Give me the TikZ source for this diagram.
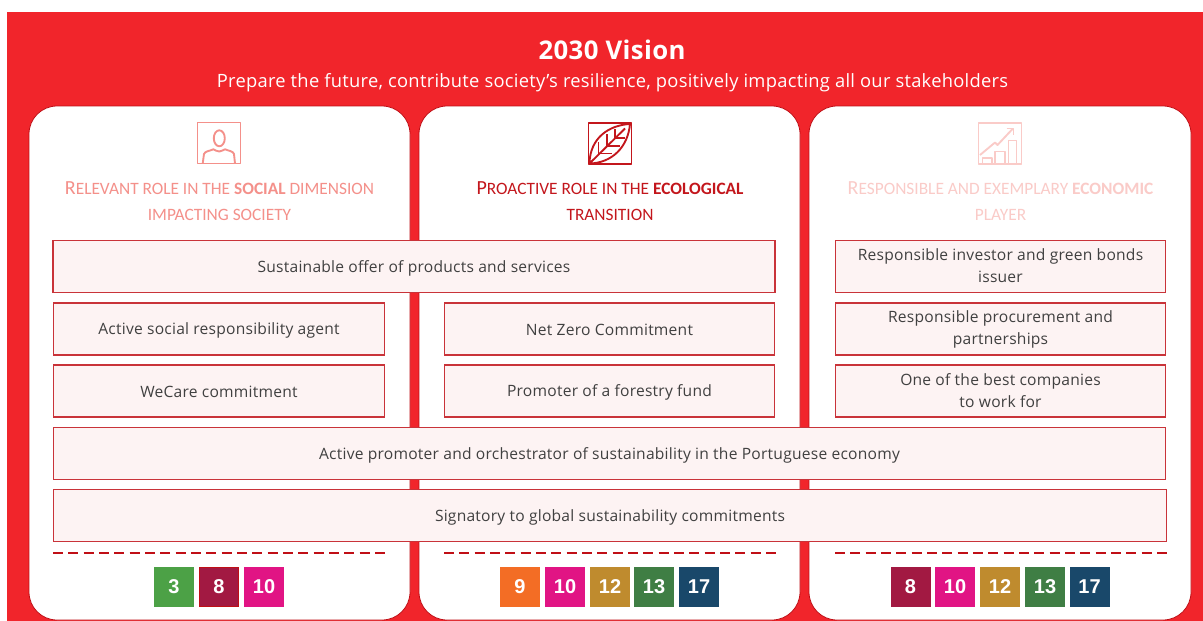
\documentclass[tikz,border=0pt]{standalone}
\usepackage{fontspec}
\setmainfont{Open Sans}[LetterSpace=1.5]
\newfontfamily\headfont{Carlito}
\setsansfont{Liberation Sans}
\usetikzlibrary{calc}
\definecolor{visionred}{HTML}{F1252B}
\definecolor{darkred}{HTML}{C00F16}
\definecolor{boxfill}{HTML}{FDF3F3}
\definecolor{boxtext}{HTML}{404040}
\definecolor{socialcol}{HTML}{F4908A}
\definecolor{ecocol}{HTML}{C3161C}
\definecolor{playercol}{HTML}{FACBC8}
\definecolor{sdgthree}{HTML}{4CA146}
\definecolor{sdgeight}{HTML}{A21942}
\definecolor{sdgnine}{HTML}{F36D25}
\definecolor{sdgten}{HTML}{E11484}
\definecolor{sdgtwelve}{HTML}{BF8B2E}
\definecolor{sdgthirteen}{HTML}{3F7E44}
\definecolor{sdgseventeen}{HTML}{19486A}
\newcommand{\capline}[2]{{\fontsize{15pt}{19.5pt}\selectfont #1}#2}
\newcommand{\boxstrut}{\rule[-1.3pt]{0pt}{13pt}}
\tikzset{
	cardbox/.style={draw=darkred,line width=0.6pt,fill=white,rounded corners=21pt},
	itembox/.style={draw=darkred!85,line width=0.9pt,fill=boxfill,text=boxtext,align=center,inner sep=0pt,
		font=\fontsize{11.7pt}{16.5pt}\selectfont,
		execute at begin node=\boxstrut,execute at end node=\boxstrut},
	headtext/.style={align=center,inner sep=0pt,font=\headfont\fontsize{13pt}{19.5pt}\selectfont},
	sdgbox/.style={minimum width=30pt,minimum height=30pt,inner sep=0pt,text=white,
		font=\fontsize{15pt}{17pt}\selectfont\sffamily\bfseries},
	dashline/.style={draw=darkred,line width=1.1pt,dash pattern=on 7.5pt off 4pt},
	iconline/.style={line width=1.4pt,line join=round}
}
\begin{document}
\begin{tikzpicture}[x=0.75pt,y=-0.75pt]
	\useasboundingbox (0,0) rectangle (1203,621);
	% Fond
	\fill[visionred] (7,12) rectangle (1203,621);
	% Titre
	\node[text=white,font=\fontsize{19.3pt}{22pt}\selectfont\bfseries] (title) at (612,50) {2030 Vision};
	\node[text=white,font=\fontsize{13.75pt}{16pt}\selectfont] (subtitle) at (612.5,83) {Prepare the future, contribute society’s resilience, positively impacting all our stakeholders};
	% Colonnes
	\draw[cardbox] (29,106) rectangle (410,620);
	\draw[cardbox] (419,106) rectangle (800,620);
	\draw[cardbox] (809,106) rectangle (1191,620);
	% Icone personne
	\draw[iconline,socialcol] (197.5,122.5) rectangle (240.5,163.5);
	\draw[iconline,socialcol] (219.3,138.3) ellipse (5.5 and 8);
	\draw[iconline,socialcol] (202.7,163.5) -- (204,154) .. controls (205,151) and (210,151) .. (213.3,149.3) .. controls (215,150) and (217,151.5) .. (219.3,151.5) .. controls (221,151.5) and (223,150) .. (225,149.3) .. controls (229,151) and (233,151) .. (234,154) -- (235,163.5);
	% Icone feuille
	\draw[iconline,ecocol] (588.5,123) rectangle (631.5,164);
	\draw[iconline,ecocol] (589.5,163.5) .. controls (590,137) and (610,125) .. (630,124) .. controls (628,147) and (612,163) .. (589.5,163.5) -- (625,128.5);
	\draw[iconline,ecocol] (598.5,153.5) -- (598.5,142) (607,146) -- (607,134) (615,138) -- (615,128.5);
	\draw[iconline,ecocol] (598.5,153.5) -- (612,153.5) (607,146) -- (620,146) (615,138) -- (625,138);
	% Icone graphique
	\draw[iconline,playercol] (978.5,123) rectangle (1021.5,164);
	\draw[iconline,playercol] (982.5,163.5) -- (982.5,158) -- (992,158) -- (992,163.5);
	\draw[iconline,playercol] (995,163.5) -- (995,151.5) -- (1005,151.5) -- (1005,163.5);
	\draw[iconline,playercol] (1008.5,163.5) -- (1008.5,140.5) -- (1016.5,140.5) -- (1016.5,163.5);
	\draw[iconline,playercol] (980,155) -- (995,142.5) -- (997.5,145) -- (1012.5,129);
	\draw[iconline,playercol] (1006.5,128.5) -- (1013.5,128.5) -- (1013.5,135);
	% Titres des colonnes
	\node[headtext,text=socialcol] (socialhead) at (219.5,201) {\capline{R}{ELEVANT ROLE IN THE} \textbf{SOCIAL} DIMENSION\\IMPACTING SOCIETY};
	\node[headtext,text=ecocol] (ecohead) at (610,201) {\capline{P}{ROACTIVE ROLE IN THE} \textbf{ECOLOGICAL}\\TRANSITION};
	\node[headtext,text=playercol] (playerhead) at (1000.5,201) {\capline{R}{ESPONSIBLE AND EXEMPLARY} \textbf{ECONOMIC}\\PLAYER};
	% Boites
	\node[itembox,minimum width=541.5pt,minimum height=39pt] (offer) at (414,266.5) {Sustainable offer of products and services};
	\node[itembox,minimum width=248pt,minimum height=39pt] (investor) at (1000.5,266.5) {Responsible investor and green bonds\\issuer};
	\node[itembox,minimum width=248pt,minimum height=39pt] (agent) at (219,329) {Active social responsibility agent};
	\node[itembox,minimum width=248pt,minimum height=39pt] (netzero) at (609.5,329) {Net Zero Commitment};
	\node[itembox,minimum width=248pt,minimum height=39pt] (procurement) at (1000.5,329) {Responsible procurement and\\partnerships};
	\node[itembox,minimum width=248pt,minimum height=39pt] (wecare) at (219,391) {WeCare commitment};
	\node[itembox,minimum width=248pt,minimum height=39pt] (forestry) at (609.5,391) {Promoter of a forestry fund};
	\node[itembox,minimum width=248pt,minimum height=39pt] (bestcompanies) at (1000.5,391) {One of the best companies\\to work for};
	\node[itembox,minimum width=834.5pt,minimum height=39.5pt] (promoter) at (609.5,453.5) {Active promoter and orchestrator of sustainability in the Portuguese economy};
	\node[itembox,minimum width=835pt,minimum height=39.5pt] (signatory) at (610,515.5) {Signatory to global sustainability commitments};
	% Pointilles
	\coordinate (dasha) at (53,553);
	\coordinate (dashb) at (386,553);
	\coordinate (dashc) at (444,553);
	\coordinate (dashd) at (776,553);
	\coordinate (dashe) at (835,553);
	\coordinate (dashf) at (1167,553);
	\draw[dashline] (dasha) -- (dashb);
	\draw[dashline] (dashc) -- (dashd);
	\draw[dashline] (dashe) -- (dashf);
	% ODD gauche
	\node[sdgbox,fill=sdgthree] (lthree) at (174,587) {3};
	\node[sdgbox,fill=sdgeight,draw=darkred,line width=0.8pt,minimum width=29.4pt,minimum height=29.4pt] (leight) at (219,587) {8};
	\node[sdgbox,fill=sdgten] (lten) at (264,587) {10};
	% ODD milieu
	\node[sdgbox,fill=sdgnine] (mnine) at (520,587) {9};
	\node[sdgbox,fill=sdgten] (mten) at (565,587) {10};
	\node[sdgbox,fill=sdgtwelve] (mtwelve) at (610,587) {12};
	\node[sdgbox,fill=sdgthirteen] (mthirteen) at (654,587) {13};
	\node[sdgbox,fill=sdgseventeen] (mseventeen) at (699,587) {17};
	% ODD droite
	\node[sdgbox,fill=sdgeight] (reight) at (910.5,587) {8};
	\node[sdgbox,fill=sdgten] (rten) at (955,587) {10};
	\node[sdgbox,fill=sdgtwelve] (rtwelve) at (1000,587) {12};
	\node[sdgbox,fill=sdgthirteen] (rthirteen) at (1045,587) {13};
	\node[sdgbox,fill=sdgseventeen] (rseventeen) at (1089.5,587) {17};
\end{tikzpicture}
\end{document}
